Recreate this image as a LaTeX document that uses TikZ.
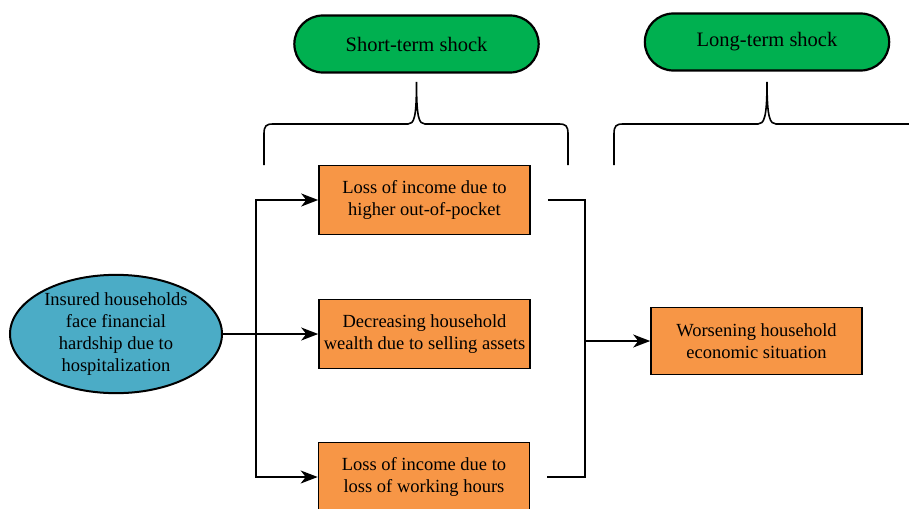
\documentclass[tikz,border=0pt]{standalone}
\usepackage{xcolor}
\usepackage{fontspec}
\setmainfont{Liberation Serif}
\usetikzlibrary{shapes.geometric, shapes.misc, arrows.meta, positioning}

\definecolor{shockgreen}{HTML}{00B050}
\definecolor{boxorange}{HTML}{F79646}
\definecolor{causeblue}{HTML}{4BACC6}

\begin{document}
\begin{tikzpicture}[x=1pt, y=-1pt,
    % Styles
    shock/.style={
        rounded rectangle,
        minimum width=251pt,
        minimum height=57pt,
        fill=shockgreen,
        draw=black,
        line width=2.2pt,
        font=\fontsize{20.5}{24}\selectfont
    },
    effect/.style={
        rectangle,
        minimum width=211pt,
        minimum height=69pt,
        inner sep=0pt,
        align=center,
        fill=boxorange,
        draw=black,
        line width=1.6pt,
        font=\fontsize{18.5}{22.5}\selectfont
    },
    cause/.style={
        ellipse,
        minimum width=212pt,
        minimum height=104pt,
        inner sep=0pt,
        align=center,
        fill=causeblue,
        draw=black,
        line width=2pt,
        font=\fontsize{18.5}{22.3}\selectfont
    },
    arrow/.style={
        -{Stealth[length=17pt, width=13pt, inset=5pt]},
        line width=1.6pt
    },
    link/.style={line width=1.6pt},
    brace/.style={line width=1.6pt}
]
\useasboundingbox (0,0) rectangle (909,508);

% Shock labels
\node[shock] (short) at (416.5,44) {Short-term shock};
\node[shock] (long) at (767,42) {Long-term shock};

% Cause
\node[cause] (hard) at (116,334) {Insured households\\face financial\\hardship due to\\hospitalization};

% Short-term effects
\node[effect] (pocket) at (424.5,200) {Loss of income due to\\higher out-of-pocket};
\node[effect] (assets) at (424.5,334) {Decreasing household\\wealth due to selling assets};
\node[effect] (hours) at (424,477) {Loss of income due to\\loss of working hours};

% Long-term effect
\node[effect, minimum height=67pt] (worse) at (756.5,341) {Worsening household\\economic situation};

% Braces
\draw[brace] (264,165) -- (264,134) .. controls (264,126) and (266,124) .. (273,124)
    -- (408,124) .. controls (414,124) and (416.5,118) .. (416.5,82)
    .. controls (416.5,118) and (419,124) .. (425,124)
    -- (559,124) .. controls (566,124) and (568,126) .. (568,134) -- (568,165);
\draw[brace] (614,165) -- (614,134) .. controls (614,126) and (616,124) .. (623,124)
    -- (758,124) .. controls (764,124) and (767,118) .. (767,82)
    .. controls (767,118) and (770,124) .. (776,124)
    -- (920,124);

% Split and merge points
\coordinate (split) at (256,334);
\coordinate (merge) at (585,341);

% Arrows
\draw[arrow] (hard.east) -- (assets.west);
\draw[arrow] (split) |- (pocket.west);
\draw[arrow] (split) |- (hours.west);
\draw[link] ([xshift=17pt]pocket.east) -| (merge);
\draw[link] ([xshift=17pt]hours.east) -| (merge);
\draw[arrow] (merge) -- (worse.west);

\end{tikzpicture}
\end{document}
